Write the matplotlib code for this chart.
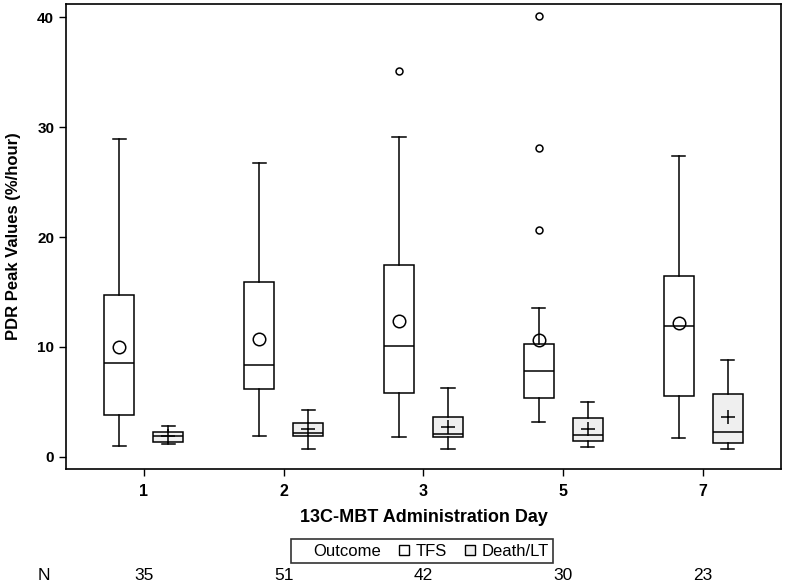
import matplotlib
matplotlib.use("Agg")
import matplotlib.pyplot as plt
from matplotlib.lines import Line2D
import matplotlib.transforms as mtransforms

# box statistics (PDR peak values, %/hour)
days = ["1", "2", "3", "5", "7"]
n_counts = [35, 51, 42, 30, 23]

tfs_whislo = [1.0, 1.9, 1.8, 3.2, 1.7]
tfs_q1 = [3.8, 6.2, 5.85, 5.4, 5.5]
tfs_med = [8.5, 8.4, 10.1, 7.85, 11.95]
tfs_q3 = [14.7, 15.9, 17.5, 10.25, 16.5]
tfs_whishi = [28.9, 26.7, 29.1, 13.55, 27.4]
tfs_mean = [10.0, 10.7, 12.4, 10.6, 12.2]
tfs_fliers = [[], [], [35.1], [40.1, 28.15, 20.6], []]

dlt_whislo = [1.15, 0.76, 0.76, 0.94, 0.76]
dlt_q1 = [1.33, 1.94, 1.79, 1.45, 1.24]
dlt_med = [1.9, 2.2, 2.1, 2.0, 2.24]
dlt_q3 = [2.27, 3.09, 3.67, 3.58, 5.76]
dlt_whishi = [2.85, 4.24, 6.3, 5.03, 8.8]
dlt_mean = [1.9, 2.5, 2.76, 2.55, 3.67]

FONT = ["Liberation Sans", "DejaVu Sans"]
DLT_FILL = "#efefef"


def make_stats(lo, q1, med, q3, hi, mean, fliers):
    stats = []
    for i in range(len(lo)):
        stats.append({"whislo": lo[i], "q1": q1[i], "med": med[i], "q3": q3[i],
                      "whishi": hi[i], "mean": mean[i], "fliers": fliers[i]})
    return stats


fig = plt.figure(figsize=(7.86, 5.85), dpi=100)
ax = fig.add_axes([0.084, 0.1983, 0.9096, 0.7947])

pos = list(range(1, len(days) + 1))
off = 0.175
lw = 1.1

tfs_stats = make_stats(tfs_whislo, tfs_q1, tfs_med, tfs_q3, tfs_whishi, tfs_mean, tfs_fliers)
dlt_stats = make_stats(dlt_whislo, dlt_q1, dlt_med, dlt_q3, dlt_whishi, dlt_mean,
                       [[] for _ in days])

common = dict(widths=0.215, capwidths=0.095, showmeans=True, patch_artist=True,
              whiskerprops=dict(color="black", lw=lw),
              capprops=dict(color="black", lw=lw),
              medianprops=dict(color="black", lw=lw),
              flierprops=dict(marker="o", markersize=5, markerfacecolor="none",
                              markeredgecolor="black", markeredgewidth=1.1))

ax.bxp(tfs_stats, positions=[p - off for p in pos],
       boxprops=dict(facecolor="white", edgecolor="black", lw=lw),
       meanprops=dict(marker="o", markersize=9, markerfacecolor="none",
                      markeredgecolor="black", markeredgewidth=1.1),
       **common)
ax.bxp(dlt_stats, positions=[p + off for p in pos],
       boxprops=dict(facecolor=DLT_FILL, edgecolor="black", lw=lw),
       meanprops=dict(marker="+", markersize=10, markeredgecolor="black",
                      markeredgewidth=1.1),
       **common)

ax.set_xlim(0.443, 5.557)
ax.set_ylim(-1.1, 41.2)
ax.set_xticks(pos)
ax.set_xticklabels(days, family=FONT, fontweight="bold", fontsize=11.5)
ax.set_yticks([0, 10, 20, 30, 40])
ax.set_yticklabels(["0", "10", "20", "30", "40"], family=FONT, fontweight="bold", fontsize=11)
ax.tick_params(axis="both", length=5, width=1, color="black", direction="out")
ax.tick_params(axis="x", pad=6)
for s in ax.spines.values():
    s.set_linewidth(1.2)

ax.set_ylabel("PDR Peak Values (%/hour)", family=FONT, fontweight="bold", fontsize=12, labelpad=12)
ax.set_xlabel("13C-MBT Administration Day", family=FONT, fontweight="bold", fontsize=13, labelpad=7)

# legend row
handles = [Line2D([], [], linestyle="none", marker=None),
           Line2D([], [], linestyle="none", marker="s", markersize=7,
                  markerfacecolor="white", markeredgecolor="black", markeredgewidth=1),
           Line2D([], [], linestyle="none", marker="s", markersize=7,
                  markerfacecolor=DLT_FILL, markeredgecolor="black", markeredgewidth=1)]
labels = ["Outcome", "TFS", "Death/LT"]
leg = fig.legend(handles, labels, ncol=3, loc="center", bbox_to_anchor=(422 / 786, 1 - 551 / 585),
                 frameon=True, fancybox=False, edgecolor="black", handlelength=0.8,
                 handletextpad=0.3, columnspacing=1.0, borderpad=0.25,
                 prop=dict(family=FONT, size=12))
leg.get_frame().set_linewidth(1.2)

# N row under the axis
trans = mtransforms.blended_transform_factory(ax.transData, fig.transFigure)
ny = 1 - 575 / 585
fig.text(44 / 786, ny, "N", family=FONT, fontsize=12.5, ha="center", va="center")
for p, n in zip(pos, n_counts):
    ax.text(p, ny, str(n), transform=trans, family=FONT, fontsize=12.5,
            ha="center", va="center", clip_on=False)

fig.savefig("out.png", dpi=100)
